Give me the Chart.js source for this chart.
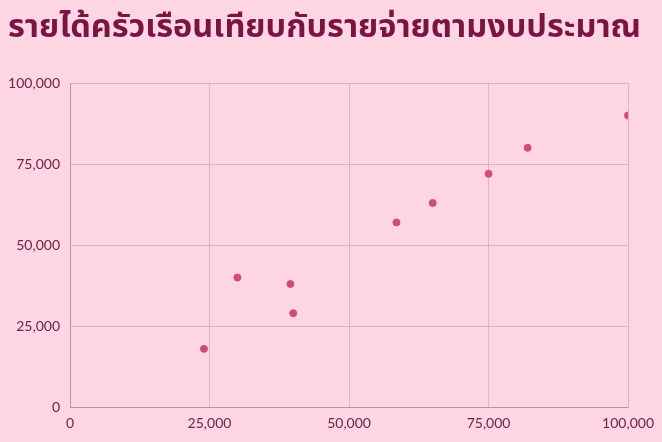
<!doctype html>
<html lang="th">
  <head>
    <meta charset="utf-8">
    <title>รายได้ครัวเรือน</title>
    <style>
      * {
        margin: 0;
        padding: 0;
      }
      body {
        background: #fdd5e3;
        width: 662px;
        height: 442px;
        overflow: hidden;
      }
      .chartBox {
        width: 662px;
        height: 442px;
      }
    </style>
  </head>
  <body>
    <div class="chartBox">
      <canvas id="myChart"></canvas>
    </div>
    <script src="https://cdn.jsdelivr.net/npm/chart.js/dist/chart.umd.min.js"></script>
    <script>
    // data
    const income = [24000, 30000, 39500, 40000, 58500, 65000, 75000, 82000, 100000];
    const spending = [18000, 40000, 38000, 29000, 57000, 63000, 72000, 80000, 90000];
    const tickValues = [0, 25000, 50000, 75000, 100000];

    const points = income.map((x, i) => ({ x: x, y: spending[i] }));

    const tickColor = '#6e2348';
    const gridColor = 'rgba(170, 120, 140, 0.35)';

    // config
    const config = {
      type: 'scatter',
      data: {
        datasets: [{
          label: 'ครัวเรือน',
          data: points,
          backgroundColor: '#d14a7d',
          borderColor: '#d14a7d',
          pointRadius: 3.5,
          pointHoverRadius: 4
        }]
      },
      options: {
        responsive: true,
        maintainAspectRatio: false,
        animation: false,
        layout: {
          padding: { left: 8, right: 6, top: 4, bottom: 2 }
        },
        plugins: {
          legend: { display: false },
          tooltip: { enabled: false },
          title: {
            display: true,
            text: 'รายได้ครัวเรือนเทียบกับรายจ่ายตามงบประมาณ',
            align: 'start',
            color: '#7a1444',
            font: { family: "'Noto Sans', 'Noto Sans Thai', sans-serif", size: 32.5, weight: 'bold' },
            padding: { top: 4, bottom: 36 }
          }
        },
        scales: {
          x: {
            type: 'linear',
            min: 0,
            max: 100000,
            afterBuildTicks: axis => { axis.ticks = tickValues.map(v => ({ value: v })); },
            grid: { color: gridColor, drawTicks: false },
            border: { color: 'rgba(160, 110, 130, 0.5)' },
            ticks: {
              color: tickColor,
              padding: 8,
              font: { family: 'Lato, sans-serif', size: 14 },
              callback: v => v.toLocaleString('en-US')
            }
          },
          y: {
            type: 'linear',
            min: 0,
            max: 100000,
            afterBuildTicks: axis => { axis.ticks = tickValues.map(v => ({ value: v })); },
            afterFit: axis => { axis.width = 62; },
            grid: { color: gridColor, drawTicks: false },
            border: { color: 'rgba(160, 110, 130, 0.5)' },
            ticks: {
              color: tickColor,
              padding: 10,
              font: { family: 'Lato, sans-serif', size: 14 },
              callback: v => v.toLocaleString('en-US')
            }
          }
        }
      }
    };

    const myChart = new Chart(document.getElementById('myChart'), config);
    </script>
  </body>
</html>
